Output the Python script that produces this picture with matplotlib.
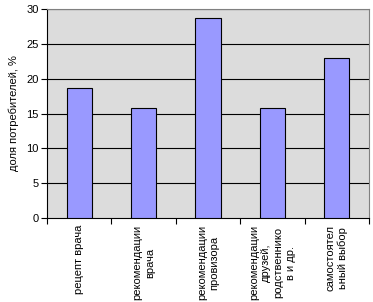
import numpy as np
import matplotlib
matplotlib.use("Agg")
import matplotlib.pyplot as plt

categories = ["рецепт врача",
              "рекомендации\nврача",
              "рекомендации\nпровизора",
              "рекомендации\nдрузей,\nродственнико\nв и др.",
              "самостоятел\nьный выбор"]
values = [18.7, 15.8, 28.7, 15.8, 23.0]
yticks = [0, 5, 10, 15, 20, 25, 30]

plt.rcParams['font.family'] = ['Liberation Sans', 'DejaVu Sans']
plt.rcParams['font.size'] = 8

fig = plt.figure(figsize=(3.73, 3.02), dpi=100)
ax = fig.add_axes([47/373, 1 - 218/302, 322/373, 209/302])
ax.set_facecolor('#dcdcdc')

x = np.arange(len(values)) + 0.5
ax.bar(x, values, width=0.39, color='#9999ff', edgecolor='black', linewidth=0.8, zorder=3)

ax.set_xlim(0, len(values))
ax.set_ylim(0, 30)
ax.set_yticks(yticks)
for y in yticks[1:]:
    ax.axhline(y, color='black', linewidth=0.8, zorder=1)

ax.set_xticks(np.arange(len(values) + 1))
ax.set_xticklabels([])
ax.set_xticks(x, minor=True)
ax.set_xticklabels(categories, minor=True, rotation=90, ha='center', va='top',
                   multialignment='center', linespacing=1.3)
ax.tick_params(axis='x', which='major', length=4, direction='out', width=0.8)
ax.tick_params(axis='x', which='minor', length=0, pad=5)
ax.tick_params(axis='y', length=4, direction='out', width=0.8, pad=2)

for s in ['top', 'right']:
    ax.spines[s].set_color('#808080')
for s in ['left', 'bottom']:
    ax.spines[s].set_color('black')
ax.set_ylabel('доля потребителей, %', labelpad=5)

fig.savefig('out.png', dpi=100)
